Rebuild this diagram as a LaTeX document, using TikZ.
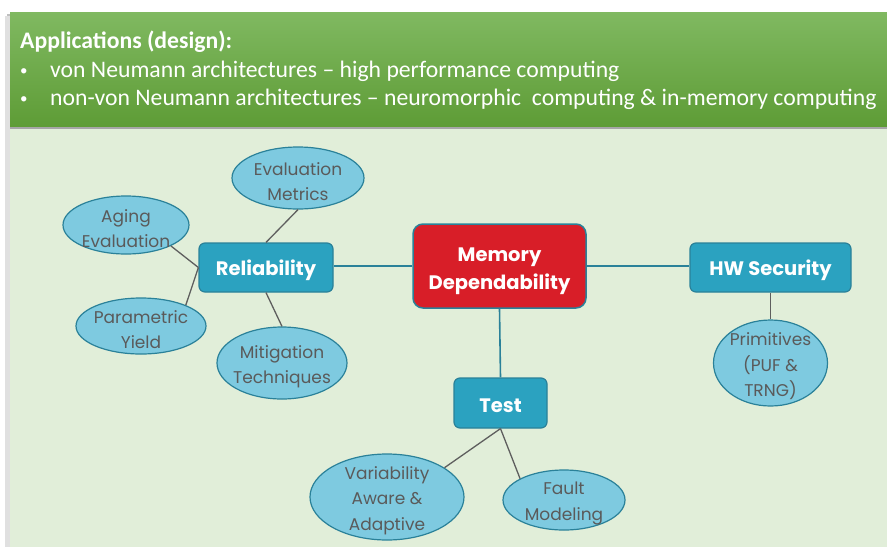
\documentclass[tikz,border=0pt]{standalone}
\usepackage{fontspec}
\setmainfont{Carlito}
\newfontfamily\geo{Poppins}
\usetikzlibrary{shapes.geometric}

\definecolor{bannertop}{HTML}{80B961}
\definecolor{bannerbot}{HTML}{5E9C36}
\definecolor{slidebg}{HTML}{E1EED9}
\definecolor{hubred}{HTML}{D81E28}
\definecolor{boxteal}{HTML}{2BA2C0}
\definecolor{edgeteal}{HTML}{2A8199}
\definecolor{leaffill}{HTML}{7ECAE0}
\definecolor{leafink}{HTML}{5A5A5A}
\definecolor{spoke}{HTML}{5E5E5E}

\begin{document}
\begin{tikzpicture}[x=1pt,y=-1pt,
  bannertext/.style={text=white, font=\fontsize{23.7}{28}\selectfont, inner sep=0pt, anchor=base west},
  bulletmark/.style={text=white, font=\fontsize{15}{18}\selectfont, inner sep=0pt, anchor=base west},
  hub/.style={draw=edgeteal, line width=1.5pt, fill=hubred, rounded corners=10pt, inner sep=0pt},
  topic/.style={draw=edgeteal, line width=1.2pt, fill=boxteal, rounded corners=6pt, inner sep=0pt},
  boxtext/.style 2 args={label={[text=white, font=\geo\bfseries\fontsize{19.5}{28}\selectfont,
    align=center, inner sep=0pt, yshift=-#1]center:#2}},
  leaf/.style={ellipse, draw=edgeteal, line width=1.2pt, fill=leaffill, inner sep=0pt},
  leaftext/.style={label={[text=leafink, font=\geo\fontsize{17}{25.5}\selectfont,
    align=center, inner sep=0pt, yshift=-3.5pt]center:#1}},
  trunk/.style={draw=edgeteal, line width=1.6pt},
  twig/.style={draw=spoke, line width=1.3pt}]

\useasboundingbox (0,0) rectangle (887,547);
\fill[white] (0,0) rectangle (887,547);

% slide body with a soft edge shadow
\fill[black!25] (7,14) rectangle (887,547);
\fill[black!12] (5,16) rectangle (887,547);
\fill[slidebg] (10,12) rectangle (887,547);

% heading banner
\fill[black!35] (10,126) rectangle (887,129);
\shade[top color=bannertop, bottom color=bannerbot] (10,12) rectangle (887,126);

\node[bannertext, font=\bfseries\fontsize{23.7}{28}\selectfont] (title) at (20,48.5) {Applications (design):};
\node[bulletmark] (b1) at (20,75.5) {•};
\node[bannertext] (l1) at (50,77) {von Neumann architectures – high performance computing};
\node[bulletmark] (b2) at (20,103.5) {•};
\node[bannertext] (l2) at (50,105) {non-von Neumann architectures – neuromorphic\ \ computing \& in-memory computing};

% central node and the three branches
\node[hub, minimum width=173pt, minimum height=84pt,
  boxtext={5.5pt}{Memory\\Dependability}] (md) at (499.5,266) {};
\node[topic, minimum width=134pt, minimum height=49pt,
  boxtext={3pt}{Reliability}] (rel) at (266,267.5) {};
\node[topic, minimum width=161pt, minimum height=49pt,
  boxtext={3pt}{HW Security}] (hw) at (770.5,267.5) {};
\node[topic, minimum width=93pt, minimum height=50pt,
  boxtext={2.5pt}{Test}] (test) at (500.5,403) {};

% leaves
\node[leaf, minimum width=132pt, minimum height=62pt, leaftext={Evaluation\\Metrics}] (em) at (298,178) {};
\node[leaf, minimum width=126pt, minimum height=58pt, leaftext={Aging\\Evaluation}] (ag) at (126,225) {};
\node[leaf, minimum width=130pt, minimum height=56pt, leaftext={Parametric\\Yield}] (py) at (141,326) {};
\node[leaf, minimum width=130pt, minimum height=72pt, leaftext={Mitigation\\Techniques}] (mt) at (282,363) {};
\node[leaf, minimum width=114pt, minimum height=86pt, leaftext={Primitives\\(PUF \&\\TRNG)}] (pr) at (770.5,363) {};
\node[leaf, minimum width=154pt, minimum height=86pt, leaftext={Variability\\Aware \&\\Adaptive}] (va) at (387,497) {};
\node[leaf, minimum width=122pt, minimum height=60pt, leaftext={Fault\\Modeling}] (fm) at (564,500) {};

% connectors
\draw[trunk] (md.west) -- (rel.east |- md.west);
\draw[trunk] (md.east) -- (hw.west |- md.east);
\draw[trunk] (md.south) -- (test.north);

\draw[twig] (rel.north) -- (em.south);
\draw[twig] (rel.west) -- (ag.-25);
\draw[twig] (rel.west) -- (py.25);
\draw[twig] (rel.south) -- (mt.north);
\draw[twig] (hw.south) -- (pr.north);
\draw[twig] (test.south) -- (va.27);
\draw[twig] (test.south) -- (fm.154);
\end{tikzpicture}
\end{document}
